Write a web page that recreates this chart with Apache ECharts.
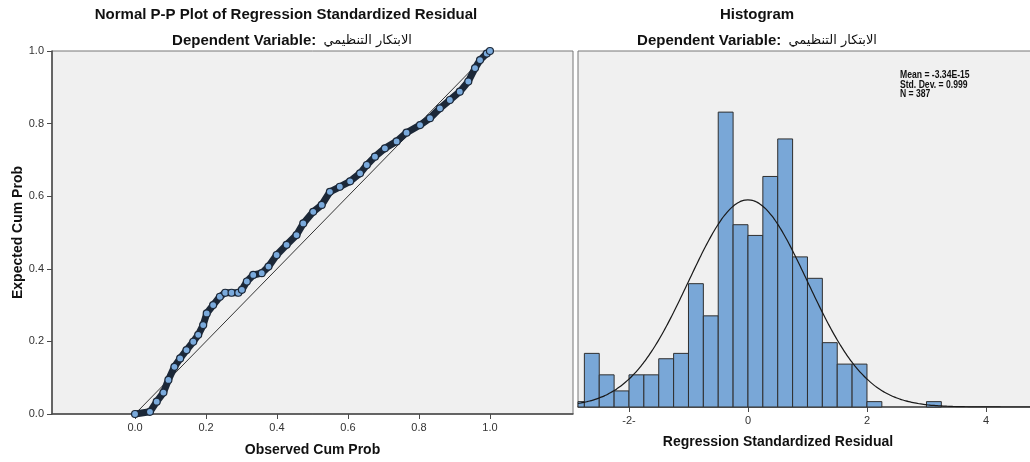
<!DOCTYPE html>
<html><head><meta charset="utf-8">
<script src="https://cdn.jsdelivr.net/npm/echarts@6/dist/echarts.min.js"></script>
<style>html,body{margin:0;padding:0;background:#fff}#c{width:1030px;height:462px}</style>
</head><body><div id="c"></div>
<script>
// ---- P-P plot data ----
const observedCum = [0.000,0.042,0.061,0.080,0.094,0.111,0.127,0.145,0.164,0.178,0.192,0.202,0.220,0.239,0.254,0.272,0.291,0.301,0.315,0.333,0.357,0.376,0.399,0.427,0.455,0.474,0.502,0.526,0.549,0.577,0.606,0.634,0.653,0.676,0.704,0.737,0.765,0.803,0.831,0.859,0.887,0.915,0.939,0.958,0.972,0.991,1.000];
const expectedCum = [0.000,0.006,0.034,0.059,0.094,0.130,0.153,0.176,0.199,0.218,0.245,0.277,0.300,0.323,0.334,0.334,0.334,0.342,0.365,0.383,0.388,0.406,0.438,0.466,0.493,0.525,0.557,0.576,0.612,0.626,0.641,0.663,0.686,0.709,0.732,0.751,0.775,0.796,0.815,0.842,0.865,0.888,0.916,0.953,0.975,0.993,1.000];
const refLineX = [0, 1];
const refLineY = [0, 1];
const ppTicks = [0, 0.2, 0.4, 0.6, 0.8, 1.0];

// ---- Histogram data ----
const binLower = [-3.00,-2.75,-2.50,-2.25,-2.00,-1.75,-1.50,-1.25,-1.00,-0.75,-0.50,-0.25,0.00,0.25,0.50,0.75,1.00,1.25,1.50,1.75,2.00,2.25,2.50,2.75,3.00];
const binCounts = [1,10,6,3,6,6,9,10,23,17,55,34,32,43,50,28,24,12,8,8,1,0,0,0,1];
const binWidth = 0.25;
const histTickValues = [-2, 0, 2, 4];
const histTickLabels = ['-2-', '0', '2', '4'];
const statMean = -3.34e-15, statSD = 0.999, statN = 387;
const statLines = ['Mean = -3.34E-15', 'Std. Dev. = 0.999', 'N = 387'];

const FONT = '"Liberation Sans", Arial, "DejaVu Sans", sans-serif';
const arabic = 'الابتكار التنظيمي';

const ppData = observedCum.map((x, i) => [x, expectedCum[i]]);
const refData = refLineX.map((x, i) => [x, refLineY[i]]);
const histData = binLower.map((x, i) => [x, x + binWidth, binCounts[i]]).filter(d => d[2] > 0);

const xMinH = -2.857, xMaxH = 4.757;
const curve = [];
for (let k = 0; k <= 152; k++) {
  const x = xMinH + (xMaxH - xMinH) * k / 152;
  const z = (x - statMean) / statSD;
  curve.push([x, statN * binWidth * Math.exp(-0.5 * z * z) / (statSD * Math.sqrt(2 * Math.PI))]);
}

const chart = echarts.init(document.getElementById('c'), null, {renderer: 'canvas'});
const axisCol = '#4a4a4a';
const labelStyle = {color: '#333', fontSize: 11, fontFamily: FONT};

function subtitle(cx, cy) {
  return {
    type: 'text', x: cx, y: cy, silent: true,
    style: {
      text: '{b|Dependent Variable:}  {a|' + arabic + '}',
      align: 'center', verticalAlign: 'middle',
      rich: {
        b: {fontSize: 15, fontWeight: 'bold', fontFamily: FONT, fill: '#111'},
        a: {fontSize: 13, fontFamily: '"DejaVu Sans", sans-serif', fill: '#111'}
      },
      fill: '#111', fontSize: 13, fontFamily: FONT
    }
  };
}

chart.setOption({
  animation: false,
  backgroundColor: '#ffffff',
  grid: [
    {left: 52, top: 51, width: 521, height: 363, show: true, backgroundColor: '#f0f0f0', borderColor: '#777', borderWidth: 1,
     containLabel: false, outerBoundsMode: 'none'},
    {left: 578, top: 51, width: 453, height: 356, show: true, backgroundColor: '#f0f0f0', borderColor: '#777', borderWidth: 1,
     containLabel: false, outerBoundsMode: 'none'}
  ],
  xAxis: [
    {type: 'value', gridIndex: 0, min: -0.234, max: 1.234,
     axisLine: {show: true, onZero: false, lineStyle: {color: axisCol, width: 1.5}},
     axisTick: {show: true, customValues: ppTicks, length: 5, lineStyle: {color: axisCol}},
     axisLabel: {show: true, customValues: ppTicks, formatter: v => v.toFixed(1), margin: 8, ...labelStyle},
     splitLine: {show: false},
     name: 'Observed Cum Prob', nameLocation: 'middle', nameGap: 29,
     nameTextStyle: {fontSize: 14, fontWeight: 'bold', color: '#111', fontFamily: FONT}},
    {type: 'value', gridIndex: 1, min: xMinH, max: xMaxH,
     axisLine: {show: true, onZero: false, lineStyle: {color: axisCol, width: 1.5}},
     axisTick: {show: true, customValues: histTickValues, length: 5, lineStyle: {color: axisCol}},
     axisLabel: {show: true, customValues: histTickValues,
       formatter: v => histTickLabels[histTickValues.indexOf(v)] ?? '', margin: 8, ...labelStyle},
     splitLine: {show: false}}
  ],
  yAxis: [
    {type: 'value', gridIndex: 0, min: 0, max: 1, interval: 0.2,
     axisLine: {show: true, onZero: false, lineStyle: {color: axisCol, width: 1.5}},
     axisTick: {show: true, length: 5, lineStyle: {color: axisCol}},
     axisLabel: {formatter: v => v.toFixed(1), margin: 8, ...labelStyle},
     splitLine: {show: false},
     name: 'Expected Cum Prob', nameLocation: 'middle', nameGap: 27, nameMoveOverlap: false,
     nameTextStyle: {fontSize: 14, fontWeight: 'bold', color: '#111', fontFamily: FONT}},
    {type: 'value', gridIndex: 1, min: 0, max: 66.4,
     axisLine: {show: false}, axisTick: {show: false}, axisLabel: {show: false}, splitLine: {show: false}}
  ],
  series: [
    {type: 'line', xAxisIndex: 0, yAxisIndex: 0, data: refData, symbol: 'none',
     lineStyle: {color: '#333', width: 1}, z: 2, silent: true},
    {type: 'line', xAxisIndex: 0, yAxisIndex: 0, data: ppData, symbol: 'circle', symbolSize: 7,
     showAllSymbol: true, lineStyle: {color: '#1c2838', width: 7},
     itemStyle: {color: '#7aaadc', borderColor: '#1c2838', borderWidth: 1.2}, z: 3, silent: true},
    {type: 'custom', xAxisIndex: 1, yAxisIndex: 1, data: histData, encode: {x: [0, 1], y: 2}, z: 2, silent: true,
     renderItem: function (params, api) {
       const p0 = api.coord([api.value(0), api.value(2)]);
       const p1 = api.coord([api.value(1), 0]);
       const cs = params.coordSys;
       const shape = echarts.graphic.clipRectByRect(
         {x: p0[0], y: p0[1], width: p1[0] - p0[0], height: p1[1] - p0[1]},
         {x: cs.x, y: cs.y, width: cs.width, height: cs.height});
       if (!shape) return null;
       return {type: 'rect', shape: shape, style: {fill: '#79a7d7', stroke: '#2f2f2f', lineWidth: 1}};
     }},
    {type: 'line', xAxisIndex: 1, yAxisIndex: 1, data: curve, symbol: 'none', smooth: true,
     lineStyle: {color: '#1a1a1a', width: 1.2}, z: 4, silent: true}
  ],
  graphic: [
    {type: 'text', x: 286, y: 15, silent: true,
     style: {text: 'Normal P-P Plot of Regression Standardized Residual', align: 'center', verticalAlign: 'middle',
       fontSize: 15, fontWeight: 'bold', fontFamily: FONT, fill: '#111'}},
    subtitle(292, 41),
    {type: 'text', x: 757, y: 15, silent: true,
     style: {text: 'Histogram', align: 'center', verticalAlign: 'middle',
       fontSize: 15, fontWeight: 'bold', fontFamily: FONT, fill: '#111'}},
    subtitle(757, 41),
    {type: 'text', x: 778, y: 442, silent: true,
     style: {text: 'Regression Standardized Residual', align: 'center', verticalAlign: 'middle',
       fontSize: 14, fontWeight: 'bold', fontFamily: FONT, fill: '#111'}},
    ...statLines.map((t, i) => ({type: 'text', x: 900, y: 75 + i * 9.7, scaleX: 0.82, silent: true,
       style: {text: t, align: 'left', verticalAlign: 'middle', fontSize: 10.5, fontWeight: 'bold', fontFamily: FONT, fill: '#111'}}))
  ]
});
</script></body></html>
